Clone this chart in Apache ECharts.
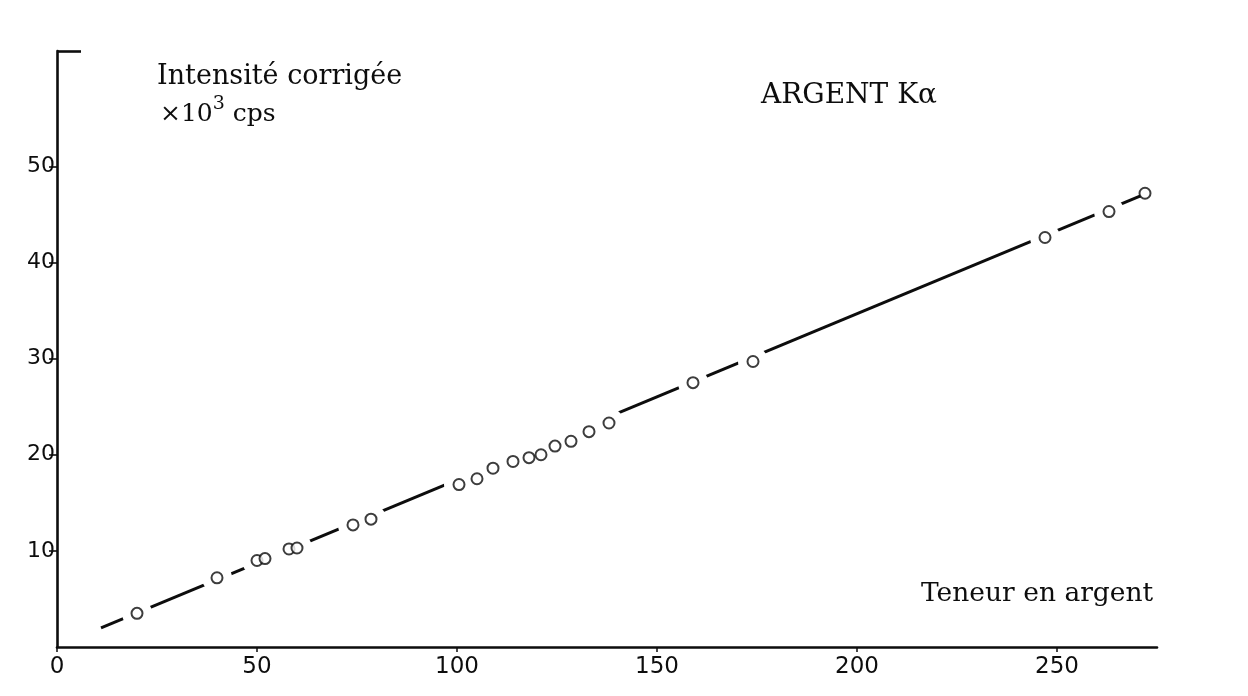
<!DOCTYPE html>
<html>
<head>
<meta charset="utf-8">
<script src="https://cdn.jsdelivr.net/npm/echarts@6/dist/echarts.min.js"></script>
<style>
  html, body { margin: 0; padding: 0; background: #ffffff; }
  #chart { width: 1248px; height: 696px; }
</style>
</head>
<body>
<div id="chart"></div>
<script>
// Étalonnage argent Kα : teneur en argent (abscisse) et intensité corrigée (×10³ cps)
const teneur    = [20, 40, 50, 52, 58, 60, 74, 78.5, 100.5, 105, 109, 114, 118, 121, 124.5, 128.5, 133, 138, 159, 174, 247, 263, 272];
const intensite = [3.5, 7.2, 9.0, 9.2, 10.2, 10.3, 12.7, 13.3, 16.9, 17.5, 18.6, 19.3, 19.7, 20.0, 20.9, 21.4, 22.4, 23.3, 27.5, 29.7, 42.6, 45.3, 47.2];

// Droite d'étalonnage (extrémités)
const droiteX = [11, 273];
const droiteY = [2.0, 47.3];

// Graduations
const xTicks = [0, 50, 100, 150, 200, 250];
const yTicks = [10, 20, 30, 40, 50];
const xMax = 275;
const yMax = 62;

const titreAxeY = 'Intensité corrigée';
const titreAxeX = 'Teneur en argent';
const titre = 'ARGENT Kα';

const ink = '#0d0d0d';
const serif = '"DejaVu Serif", "Liberation Serif", serif';
const sans = '"DejaVu Sans", "Liberation Sans", sans-serif';

const points = teneur.map((x, i) => [x, intensite[i]]);
const droite = droiteX.map((x, i) => [x, droiteY[i]]);

const chart = echarts.init(document.getElementById('chart'), null, { renderer: 'canvas' });

chart.setOption({
  animation: false,
  backgroundColor: '#ffffff',
  grid: { left: 57, right: 91, top: 51, bottom: 49, containLabel: false },
  xAxis: {
    type: 'value',
    min: 0,
    max: xMax,
    splitLine: { show: false },
    axisLine: { show: true, onZero: false, lineStyle: { color: ink, width: 2.6 } },
    axisTick: { show: true, customValues: xTicks, length: 5, lineStyle: { color: ink, width: 1.5 } },
    axisLabel: { customValues: xTicks, margin: 9, color: ink, fontFamily: sans, fontSize: 23 }
  },
  yAxis: {
    type: 'value',
    min: 0,
    max: yMax,
    splitLine: { show: false },
    axisLine: { show: true, onZero: false, lineStyle: { color: ink, width: 2.6 } },
    axisTick: { show: true, customValues: yTicks, length: 8, lineStyle: { color: ink, width: 1.6 } },
    axisLabel: { customValues: yTicks, margin: 2, color: ink, fontFamily: sans, fontSize: 22 }
  },
  graphic: [
    { type: 'text', left: 157, top: 63, style: { text: titreAxeY, font: '27px ' + serif, fill: ink } },
    {
      type: 'text', left: 160, top: 95,
      style: {
        text: '{n|×10}{s|3}{n| cps}',
        fill: ink,
        rich: {
          n: { fontFamily: serif, fontSize: 25, fill: ink, lineHeight: 32, verticalAlign: 'bottom' },
          s: { fontFamily: serif, fontSize: 19, fill: ink, lineHeight: 32, verticalAlign: 'top' }
        }
      }
    },
    { type: 'text', left: 761, top: 82, style: { text: titre, font: '28px ' + serif, fill: ink } },
    { type: 'text', left: 921, top: 581, style: { text: titreAxeX, font: '26.5px ' + serif, fill: ink } }
  ],
  series: [
    {
      name: 'droite',
      type: 'line',
      data: droite,
      symbol: 'none',
      z: 1,
      silent: true,
      lineStyle: { color: ink, width: 3 },
      markLine: {
        silent: true,
        symbol: ['none', 'none'],
        label: { show: false },
        lineStyle: { color: ink, width: 2.6, type: 'solid' },
        data: [[{ coord: [0, yMax] }, { coord: [6, yMax] }]]
      }
    },
    {
      // blanc autour de chaque mesure : la droite est interrompue aux points
      name: 'réserve',
      type: 'scatter',
      data: points,
      symbol: 'circle',
      symbolSize: (v, p) => (p.dataIndex === teneur.length - 1 ? 10 : 30),
      z: 2,
      silent: true,
      itemStyle: { color: '#ffffff', opacity: 1 }
    },
    {
      name: 'mesures',
      type: 'scatter',
      data: points,
      symbol: 'emptyCircle',
      symbolSize: 11,
      z: 3,
      itemStyle: { color: ink, borderColor: ink, borderWidth: 3.4 }
    }
  ]
});
</script>
</body>
</html>
